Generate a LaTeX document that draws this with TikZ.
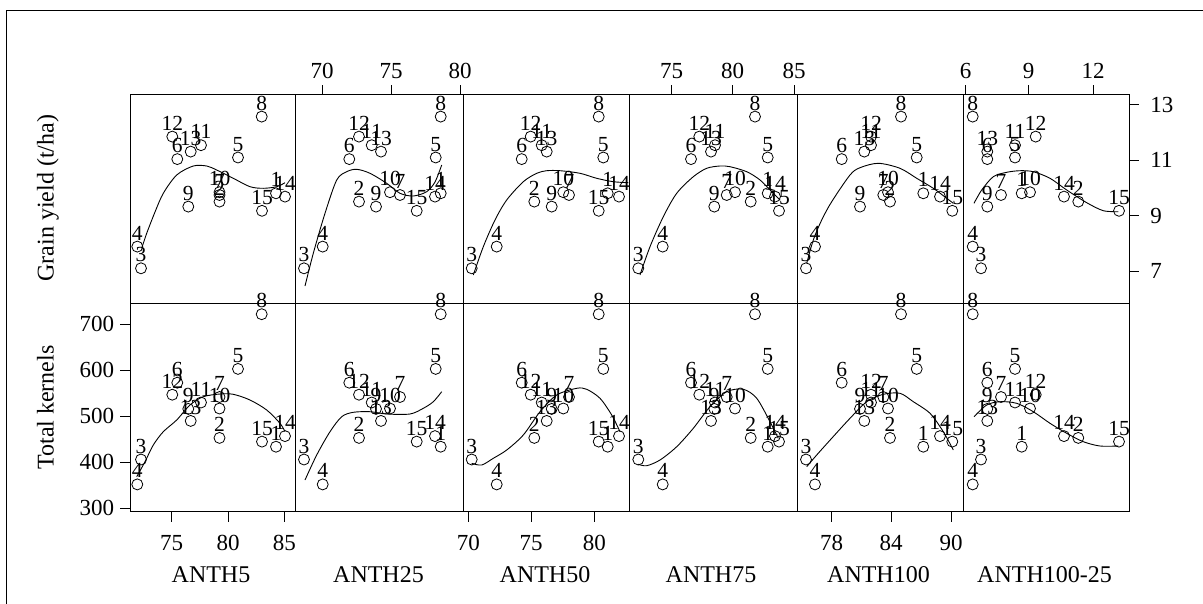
\documentclass[tikz,border=0pt]{standalone}
\usepackage{fontspec}
\setmainfont{Liberation Serif}
\begin{document}
\begin{tikzpicture}[x=1pt,y=-1pt,line width=0.9pt,
  ticklbl/.style={inner sep=0pt,font=\fontsize{23}{25}\selectfont},
  axttl/.style={inner sep=0pt,font=\fontsize{24}{26}\selectfont},
  ptlbl/.style={inner sep=0pt,anchor=base,font=\fontsize{21.5}{23}\selectfont},
  ptmark/.style={line width=0.8pt},
  fitline/.style={line width=0.9pt}]
\useasboundingbox (0,0) rectangle (1203,603);
% outer frame (cropped)
\draw (6,610) -- (6,10) -- (1210,10);
% panels
\foreach \xa/\xb [count=\c] in {130/295.3,295.3/463,463/629.3,629.3/797.3,797.3/963,963/1129.3}{
  \draw (\xa,94.3) rectangle (\xb,303.3);
  \draw (\xa,303.3) rectangle (\xb,511.7);
}
% y data (pixel positions)
\def\GY{{193.3,201.6,268.3,246.6,157.5,159.1,195,116.6,206.6,192.2,145.2,136.6,151.6,196.6,210.8}}
\def\TK{{446.7,437.9,459.5,484.4,368.9,382.7,397,314.2,408.9,408.5,402.5,394.7,420.9,436.1,441.6}}
% points per column
\foreach \c/\xl in {
 1/{276,219.5,141,137.3,238,177.3,219.5,261.7,188.3,219.5,201,172.3,190.7,285,262},
 2/{440.7,359,304,322.7,435.7,349.3,400,440.7,376,390,371.7,359,381,435,416.7},
 3/{607.7,534.3,471.7,496.7,603.3,521.7,569,598.7,551.7,563.3,541.7,530.7,546.7,619,598.7},
 4/{767.7,750.7,638.3,662.7,767.7,691,726.7,755,714.3,735,715,699.3,711,775,779},
 5/{923.3,890,806,815,916.7,841.7,883.3,901,860,888,871,871,864.3,940,952.3},
 6/{1021.7,1078.3,981,972.7,1015,987.3,1001,972.7,987.3,1030,1015,1035.7,987.3,1064,1119}}{
  \foreach \x [count=\i] in \xl {
    \pgfmathsetmacro\ya{\GY[\i-1]}
    \pgfmathsetmacro\yb{\TK[\i-1]}
    \draw[ptmark] (\x,\ya) circle[radius=5.5pt];
    \node[ptlbl] (ga\c-\i) at (\x,\ya-6.5) {\i};
    \draw[ptmark] (\x,\yb) circle[radius=5.5pt];
    \node[ptlbl] (tk\c-\i) at (\x,\yb-6.5) {\i};
  }
}
% fitted curves, top row
\draw[fitline] plot[smooth,tension=0.5] coordinates {(141.7,248.3) (146.7,233.3) (155,212) (163.3,193.3) (176.7,175) (193.3,166) (206.7,166) (216.7,170) (233.3,178.3) (250,186.7) (263.3,188.3) (276.7,186.7) (285,182.7)};
\draw[fitline] plot[smooth,tension=0.5] coordinates {(305,286) (313.3,253.3) (325,213.3) (336.7,180) (346.7,171.7) (356.7,169.3) (370,173.3) (386.7,183.3) (400,193.3) (413.3,196) (426.7,191.7) (435,182) (441.7,165)};
\draw[fitline] plot[smooth,tension=0.5] coordinates {(473.3,275) (483.3,246.7) (495,220) (506.7,200) (523.3,181.7) (536.7,173.3) (546.7,170.7) (560,170.7) (580,173.3) (596.7,178.3) (613.3,181.7) (628.3,182.7)};
\draw[fitline] plot[smooth,tension=0.5] coordinates {(640,275) (650,246.7) (663.3,216.7) (676.7,193.3) (693.3,176.7) (706.7,168.3) (720,166) (730,166.7) (746.7,171.7) (760,180) (773.3,193.3) (780,200)};
\draw[fitline] plot[smooth,tension=0.5] coordinates {(806.7,263.3) (813.3,240) (821.7,220) (831.7,201.7) (850,175) (860,167.7) (878.3,163.3) (900,168.3) (916.7,178.3) (933.3,188.3) (946.7,198.3) (953.3,203.3)};
\draw[fitline] plot[smooth,tension=0.5] coordinates {(974,203.3) (981.7,190) (993.3,176.7) (1006.7,172.3) (1020,170.7) (1033.3,171.7) (1050,178.3) (1066.7,190) (1086.7,202.7) (1103.3,210.7) (1118.3,211.7)};
% fitted curves, bottom row
\draw[fitline] plot[smooth,tension=0.5] coordinates {(136.7,476.7) (145,461.7) (153.3,445) (163.3,431.7) (176.7,420) (190,405) (203.3,396.7) (220,394) (233.3,394.3) (250,400) (266.7,410) (280,423.3) (285,431.7)};
\draw[fitline] plot[smooth,tension=0.5] coordinates {(305,480) (316.7,455) (330,431.7) (341.7,416.7) (353.3,412.3) (370,411.7) (386.7,414) (410,414) (423.3,408.3) (433.3,401.7) (441.7,391.7)};
\draw[fitline] plot[smooth,tension=0.5] coordinates {(471.7,463.3) (481.7,465) (493.3,458.3) (506.7,450) (523.3,435) (540,411.7) (556.7,395) (576.7,388.3) (586.7,389.3) (600,398.3) (611.7,415) (620,431.7)};
\draw[fitline] plot[smooth,tension=0.5] coordinates {(638.3,464.3) (646.7,465.7) (660,460) (676.7,446.7) (693.3,428.3) (710,406.7) (726.7,391.7) (743.3,389.3) (756.7,398.3) (770,421.7) (778.3,438.3)};
\draw[fitline] plot[smooth,tension=0.5] coordinates {(806.7,466.7) (816.7,455) (831.7,438.3) (850,418.3) (866.7,401.7) (883.3,394.3) (900,393.3) (913.3,401.7) (930,413.3) (943.3,431.7) (953.3,450)};
\draw[fitline] plot[smooth,tension=0.5] coordinates {(974,416.7) (986.7,405) (1000,401.7) (1016.7,403.3) (1033.3,411.7) (1050,423.3) (1066.7,433.3) (1083.3,441.7) (1100,446) (1118.3,446)};
% left axis (Total kernels)
\foreach \v/\py in {300/508.3,400/462.3,500/416.3,600/370.3,700/324.3}{
  \draw (120,\py) -- (130,\py);
  \node[ticklbl,anchor=east] (l\v) at (114.5,\py) {\v};
}
% right axis (Grain yield)
\foreach \v/\py in {13/104.7,11/160.2,9/215.8,7/271.3}{
  \draw (1129.3,\py) -- (1139,\py);
  \node[ticklbl,anchor=west] (r\v) at (1150,\py) {\v};
}
% top axes
\foreach \v/\px/\k in {70/322/a,75/391/a,80/460/a,75/671.7/b,80/732.7/b,85/794/b,6/965.7/c,9/1028.7/c,12/1093/c}{
  \draw (\px,94.3) -- (\px,85);
  \node[ticklbl,anchor=base] (t\k\v) at (\px,78.3) {\v};
}
% bottom axes
\foreach \v/\px/\k in {75/171.7/a,80/228/a,85/284.3/a,70/468.3/b,75/531/b,80/594.3/b,78/831.7/c,84/891/c,90/951/c}{
  \draw (\px,511.7) -- (\px,521.7);
  \node[ticklbl,anchor=base] (b\k\v) at (\px,550) {\v};
}
% axis titles
\foreach \t/\px [count=\n] in {ANTH5/211,ANTH25/378.5,ANTH50/545,ANTH75/711,ANTH100/878.5,ANTH100-25/1044.5}{
  \node[axttl,anchor=base] (x\n) at (\px,582.3) {\t};
}
\node[axttl,anchor=base,rotate=90] (ygy) at (53.5,198.3) {Grain yield (t/ha)};
\node[axttl,anchor=base,rotate=90] (ytk) at (53.5,407.5) {Total kernels};
\end{tikzpicture}
\end{document}
